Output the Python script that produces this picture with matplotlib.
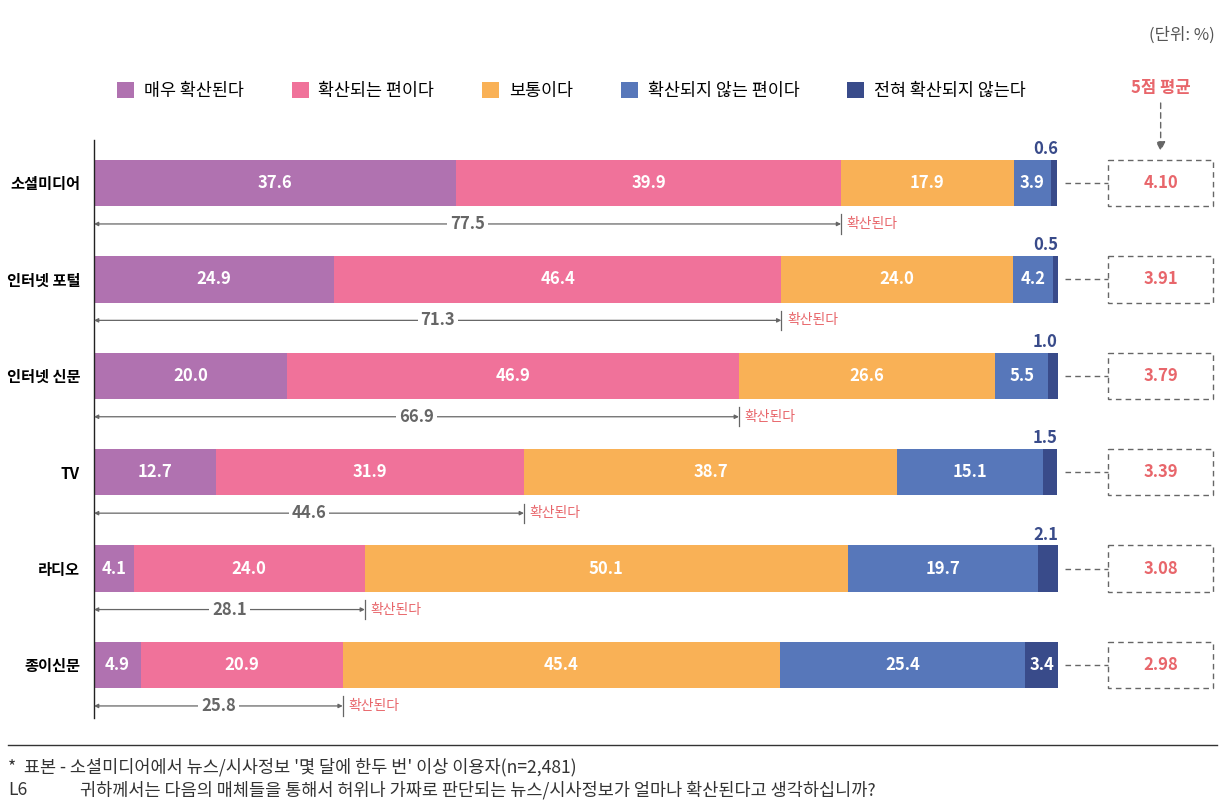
import matplotlib

matplotlib.use("Agg")
import matplotlib.pyplot as plt
from matplotlib.patches import Patch, Rectangle
import numpy as np

plt.rcParams["font.family"] = ["Noto Sans CJK KR", "DejaVu Sans"]

# ---- data -------------------------------------------------------------
categories = ["소셜미디어", "인터넷 포털", "인터넷 신문", "TV", "라디오", "종이신문"]
series_names = ["매우 확산된다", "확산되는 편이다", "보통이다", "확산되지 않는 편이다", "전혀 확산되지 않는다"]
very = [37.6, 24.9, 20.0, 12.7, 4.1, 4.9]
somewhat = [39.9, 46.4, 46.9, 31.9, 24.0, 20.9]
neutral = [17.9, 24.0, 26.6, 38.7, 50.1, 45.4]
not_much = [3.9, 4.2, 5.5, 15.1, 19.7, 25.4]
not_at_all = [0.6, 0.5, 1.0, 1.5, 2.1, 3.4]
spread_total = [77.5, 71.3, 66.9, 44.6, 28.1, 25.8]
mean5 = ["4.10", "3.91", "3.79", "3.39", "3.08", "2.98"]

colors = ["#B072B0", "#F0729A", "#F9B156", "#5777BA", "#394B8A"]
SALMON = "#E8666B"
GRAY = "#666666"

W, H = 1227, 807
fig = plt.figure(figsize=(W / 100, H / 100), dpi=100)

# main axes: x from px 94 to 1058 (0..100), y from px 140 to 718
ax = fig.add_axes([94 / W, 1 - 718 / H, (1058 - 94) / W, (718 - 140) / H])
ax.set_xlim(0, 100)
ax.set_ylim(5.55, -0.446)
y = np.arange(len(categories))
bar_h = 0.48

left = np.zeros(len(categories))
for vals, col in zip([very, somewhat, neutral, not_much, not_at_all], colors):
    vals = np.array(vals)
    ax.barh(y, vals, left=left, height=bar_h, color=col, edgecolor="none")
    for i, (v, l) in enumerate(zip(vals, left)):
        if col == colors[-1] and v < 3:
            ax.text(100, i - bar_h / 2 - 0.02, f"{v:.1f}", ha="right", va="bottom",
                    color=colors[-1], fontsize=12, fontweight="bold")
        else:
            ax.text(l + v / 2, i, f"{v:.1f}", ha="center", va="center",
                    color="white", fontsize=12, fontweight="bold")
    left = left + vals

# "확산된다" span arrows
for i, tot in enumerate(spread_total):
    yy = i + 0.425
    ax.annotate("", xy=(0, yy), xytext=(tot, yy),
                arrowprops=dict(arrowstyle="<|-|>", color=GRAY, lw=0.9,
                                mutation_scale=6, shrinkA=0, shrinkB=0))
    ax.plot([tot, tot], [yy - 0.1, yy + 0.1], color=GRAY, lw=0.9)
    ax.text(tot / 2, yy, f"{tot:.1f}", ha="center", va="center", color=GRAY,
            fontsize=12, fontweight="bold",
            bbox=dict(facecolor="white", edgecolor="none", pad=2))
    ax.text(tot + 0.6, yy, "확산된다", ha="left", va="center", color=SALMON,
            fontsize=10)

# 5점 평균 boxes
for i, m in enumerate(mean5):
    ax.plot([100.7, 105.2], [i, i], color=GRAY, lw=1, ls=(0, (4, 3)), clip_on=False)
    ax.add_patch(Rectangle((105.2, i - bar_h / 2), 10.9, bar_h, fill=False,
                           edgecolor=GRAY, lw=1, ls=(0, (4, 3)), clip_on=False))
    ax.text(110.65, i, m, ha="center", va="center", color=SALMON,
            fontsize=12, fontweight="bold")

ax.text(110.65, -0.985, "5점 평균", ha="center", va="center", color=SALMON,
        fontsize=12, fontweight="bold")
ax.annotate("", xy=(110.65, -0.33), xytext=(110.65, -0.83),
            arrowprops=dict(arrowstyle="-|>", color=GRAY, lw=1, ls=(0, (4, 3)),
                            mutation_scale=14, shrinkA=0, shrinkB=0),
            annotation_clip=False)

ax.set_yticks(y)
ax.set_yticklabels(categories, fontsize=11, fontweight="bold")
ax.tick_params(axis="y", length=0, pad=10)
ax.set_xticks([])
for s in ["top", "right", "bottom"]:
    ax.spines[s].set_visible(False)
ax.spines["left"].set_color("#222222")
ax.spines["left"].set_linewidth(1)

# legend
handles = [Patch(facecolor=c, edgecolor="none") for c in colors]
fig.legend(handles, series_names, loc="center left", bbox_to_anchor=(117 / W, 1 - 91 / H),
           ncol=5, frameon=False, fontsize=12.5, handlelength=1.0, handleheight=1.0,
           handletextpad=0.55, columnspacing=2.75, borderpad=0, borderaxespad=0)

fig.text(1215 / W, 1 - 35 / H, "(단위: %)", ha="right", va="center", color="#555555",
         fontsize=12)

# footer
fig.add_artist(plt.Line2D([8 / W, 1217 / W], [1 - 745 / H, 1 - 745 / H],
                          color="#333333", lw=1))
fig.text(8 / W, 1 - 767 / H, "*  표본 - 소셜미디어에서 뉴스/시사정보 '몇 달에 한두 번' 이상 이용자(n=2,481)",
         ha="left", va="center", color="#333333", fontsize=12.6)
fig.text(8 / W, 1 - 790 / H, "L6", ha="left", va="center", color="#333333", fontsize=12.6)
fig.text(80 / W, 1 - 790 / H,
         "귀하께서는 다음의 매체들을 통해서 허위나 가짜로 판단되는 뉴스/시사정보가 얼마나 확산된다고 생각하십니까?",
         ha="left", va="center", color="#333333", fontsize=12.6)

fig.savefig("out.png", dpi=100)
